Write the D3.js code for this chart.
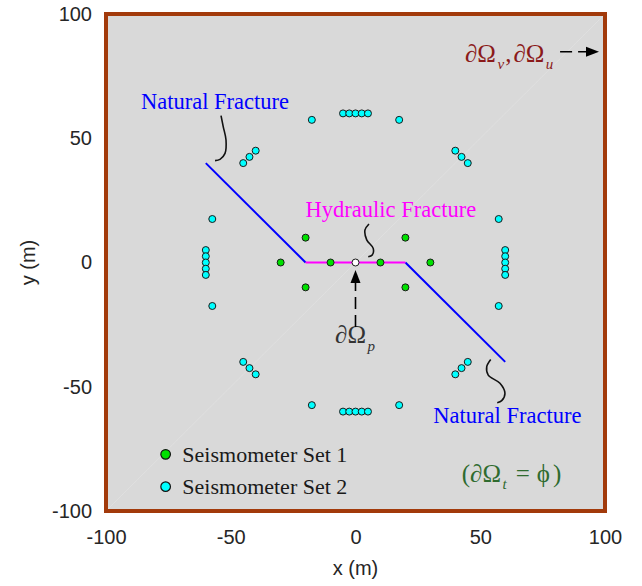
<!DOCTYPE html>
<html>
<head>
<meta charset="utf-8">
<script src="https://cdn.jsdelivr.net/npm/d3@7"></script>
<style>
  body { margin: 0; background: #fff; }
  svg { display: block; }
</style>
</head>
<body>
<script>
// Axis ticks
const xTicks = [-100, -50, 0, 50, 100];
const yTicks = [-100, -50, 0, 50, 100];

// Seismometer set 1 (green)
const set1X = [-30, -10, 10, 30, -20, 20, -20, 20];
const set1Y = [0, 0, 0, 0, 10, 10, -10, -10];

// Seismometer set 2 (cyan), ring of radius ~60 m
const set2X = [
    -5, -2.5, 0, 2.5, 5,          // top row
    -5, -2.5, 0, 2.5, 5,          // bottom row
    -60, -60, -60, -60, -60,      // left column
    60, 60, 60, 60, 60,           // right column
    -17.5, 17.5, -17.5, 17.5,     // singles near top/bottom
    -57.4, -57.4, 57.4, 57.4,     // singles near left/right
    -45, -42.5, -40, 45, 42.5, 40, // upper triplets
    -45, -42.5, -40, 45, 42.5, 40  // lower triplets
];
const set2Y = [
    60, 60, 60, 60, 60,
    -60, -60, -60, -60, -60,
    5, 2.5, 0, -2.5, -5,
    5, 2.5, 0, -2.5, -5,
    57.4, 57.4, -57.4, -57.4,
    17.5, -17.5, 17.5, -17.5,
    40, 42.5, 45, 40, 42.5, 45,
    -40, -42.5, -45, -40, -42.5, -45
];

// Fractures
const naturalLeftX = [-60, -20];
const naturalLeftY = [40, 0];
const naturalRightX = [20, 60];
const naturalRightY = [0, -40];
const hydraulicX = [-20, 20];
const hydraulicY = [0, 0];
const injectionX = [0];
const injectionY = [0];

// Annotation squiggles (data units)
const braceTopLeft = [[-53.9, 59.1], [-53.0, 54.6], [-51.9, 49.3], [-52.3, 43.9], [-54.3, 41.5], [-56.3, 41.0]];
const braceHydraulic = [[5.4, 15.5], [3.8, 13.1], [4.5, 9.1], [7.1, 5.7], [6.7, 3.0], [5.1, 2.3]];
const braceBottomRight = [[54.2, -39.0], [52.6, -41.9], [53.2, -45.3], [57.9, -48.6], [59.9, -52.6], [58.6, -55.6], [56.8, -56.4]];

const legendLabels = ["Seismometer Set 1", "Seismometer Set 2"];

const W = 642, H = 586;
const plot = { left: 106, right: 605, top: 14, bottom: 511 };

const colors = {
    bg: "#d9d9d9",
    border: "#a23a0b",
    natural: "#0000ff",
    hydraulic: "#ff00ff",
    set1: "#00e000",
    set2: "#00ffff",
    axisText: "#262626",
    boundaryVU: "#8b1a1a",
    boundaryT: "#2f6b2f",
    boundaryP: "#333333"
};

const serif = "'Liberation Serif', 'Times New Roman', serif";
const sans = "'Liberation Sans', Arial, sans-serif";

const x = d3.scaleLinear().domain([-100, 100]).range([plot.left, plot.right]);
const y = d3.scaleLinear().domain([-100, 100]).range([plot.bottom, plot.top]);

const svg = d3.select("body").append("svg").attr("width", W).attr("height", H);

// Background
svg.append("rect")
    .attr("x", plot.left).attr("y", plot.top)
    .attr("width", plot.right - plot.left).attr("height", plot.bottom - plot.top)
    .attr("fill", colors.bg);

// faint diagonal
svg.append("line")
    .attr("x1", x(-100)).attr("y1", y(-100))
    .attr("x2", x(100)).attr("y2", y(100))
    .attr("stroke", "#e3e3e3").attr("stroke-width", 0.7);

const line = d3.line().x((d) => x(d[0])).y((d) => y(d[1]));
const zip = (xs, ys) => xs.map((v, i) => [v, ys[i]]);

// Fractures
[zip(naturalLeftX, naturalLeftY), zip(naturalRightX, naturalRightY)].forEach((pts) => {
    svg.append("path").attr("d", line(pts))
        .attr("fill", "none").attr("stroke", colors.natural).attr("stroke-width", 2);
});
svg.append("path").attr("d", line(zip(hydraulicX, hydraulicY)))
    .attr("fill", "none").attr("stroke", colors.hydraulic).attr("stroke-width", 2);

// Seismometers
function drawPoints(xs, ys, fill, r) {
    svg.append("g").selectAll("circle")
        .data(zip(xs, ys))
        .enter()
        .append("circle")
        .attr("cx", (d) => x(d[0]))
        .attr("cy", (d) => y(d[1]))
        .attr("r", r)
        .attr("fill", fill)
        .attr("stroke", "#1a1a1a")
        .attr("stroke-width", 1);
}
drawPoints(set2X, set2Y, colors.set2, 3.5);
drawPoints(set1X, set1Y, colors.set1, 3.5);
drawPoints(injectionX, injectionY, "#ffffff", 3.5);

// Squiggle connectors
const curve = d3.line().x((d) => x(d[0])).y((d) => y(d[1])).curve(d3.curveCatmullRom);
[braceTopLeft, braceHydraulic, braceBottomRight].forEach((pts) => {
    svg.append("path").attr("d", curve(pts))
        .attr("fill", "none").attr("stroke", "#111").attr("stroke-width", 1.6);
});

// Text labels
function label(text, dx, dy, color) {
    svg.append("text")
        .attr("x", x(dx)).attr("y", y(dy))
        .attr("font-family", serif).attr("font-size", 22.5)
        .attr("fill", color)
        .text(text);
}
label("Natural Fracture", -86, 61.8, colors.natural);
label("Natural Fracture", 31.2, -64.7, colors.natural);
label("Hydraulic Fracture", -20, 18.4, colors.hydraulic);

// Math-like labels built from tspans
function mathText(dx, dy, parts, color) {
    const t = svg.append("text")
        .attr("x", x(dx)).attr("y", y(dy))
        .attr("font-family", serif).attr("font-size", 25)
        .attr("fill", color);
    let down = false;
    parts.forEach((p) => {
        const s = t.append("tspan").text(p.t);
        if (p.sub) {
            s.attr("font-size", 15).attr("font-style", "italic").attr("dx", 1.5);
            if (!down) s.attr("dy", 7.5);
            down = true;
        } else {
            if (down) s.attr("dy", -7.5);
            down = false;
        }
        if (p.italic) s.attr("font-style", "italic");
        if (p.dx) s.attr("dx", p.dx);
    });
}
mathText(-8.2, -32.5, [{ t: "\u2202\u03A9" }, { t: "p", sub: true }], colors.boundaryP);
mathText(43.9, 80.7, [
    { t: "\u2202\u03A9" }, { t: "v", sub: true }, { t: ",", dx: 1 },
    { t: "\u2202\u03A9", dx: 2 }, { t: "u", sub: true }
], colors.boundaryVU);
mathText(42.6, -88.2, [
    { t: "(\u2202\u03A9" }, { t: "t", sub: true }, { t: "=", dx: 9 },
    { t: "\u03D5", dx: 7 }, { t: ")", dx: 3 }
], colors.boundaryT);

// Dashed arrows
function dashedArrow(x1, y1, x2, y2) {
    const p1 = [x(x1), y(y1)], p2 = [x(x2), y(y2)];
    const ang = Math.atan2(p2[1] - p1[1], p2[0] - p1[0]);
    const len = 13, half = 5;
    const base = [p2[0] - len * Math.cos(ang), p2[1] - len * Math.sin(ang)];
    svg.append("line")
        .attr("x1", p1[0]).attr("y1", p1[1])
        .attr("x2", base[0]).attr("y2", base[1])
        .attr("stroke", "#000").attr("stroke-width", 1.6)
        .attr("stroke-dasharray", "12,6");
    const nx = -Math.sin(ang), ny = Math.cos(ang);
    svg.append("path")
        .attr("d", `M${p2[0]},${p2[1]} L${base[0] + nx * half},${base[1] + ny * half} L${base[0] - nx * half},${base[1] - ny * half} Z`)
        .attr("fill", "#000");
}
dashedArrow(0, -26, 0, -3);
dashedArrow(82, 84.8, 97.6, 84.8);

// Legend
const legend = svg.append("g");
const legendRows = [
    { label: legendLabels[0], fill: colors.set1, cy: -77.2 },
    { label: legendLabels[1], fill: colors.set2, cy: -90.2 }
];
legendRows.forEach((row) => {
    legend.append("circle")
        .attr("cx", x(-76.1)).attr("cy", y(row.cy))
        .attr("r", 4.8)
        .attr("fill", row.fill).attr("stroke", "#111").attr("stroke-width", 1.2);
    legend.append("text")
        .attr("x", x(-69.4)).attr("y", y(row.cy) + 7.5)
        .attr("font-family", serif).attr("font-size", 22)
        .attr("fill", "#1a1a1a")
        .text(row.label);
});

// Axes (plain hyphen minus like the reference)
const fmt = (d) => String(d);
const xAxis = svg.append("g")
    .attr("transform", `translate(0,${plot.bottom})`)
    .call(d3.axisBottom(x).tickValues(xTicks).tickFormat(fmt).tickSize(0).tickPadding(19));
const yAxis = svg.append("g")
    .attr("transform", `translate(${plot.left},0)`)
    .call(d3.axisLeft(y).tickValues(yTicks).tickFormat(fmt).tickSize(0).tickPadding(14));
[xAxis, yAxis].forEach((a) => {
    a.select(".domain").remove();
    a.selectAll("text")
        .attr("font-family", sans).attr("font-size", 20)
        .attr("fill", colors.axisText);
});

svg.append("text")
    .attr("x", (plot.left + plot.right) / 2).attr("y", 575)
    .attr("text-anchor", "middle")
    .attr("font-family", sans).attr("font-size", 20)
    .attr("fill", colors.axisText)
    .text("x (m)");
svg.append("text")
    .attr("transform", `translate(35,${(plot.top + plot.bottom) / 2}) rotate(-90)`)
    .attr("text-anchor", "middle")
    .attr("font-family", sans).attr("font-size", 20)
    .attr("fill", colors.axisText)
    .text("y (m)");

// Plot border
svg.append("rect")
    .attr("x", plot.left).attr("y", plot.top)
    .attr("width", plot.right - plot.left).attr("height", plot.bottom - plot.top)
    .attr("fill", "none")
    .attr("stroke", colors.border).attr("stroke-width", 4);
</script>
</body>
</html>
